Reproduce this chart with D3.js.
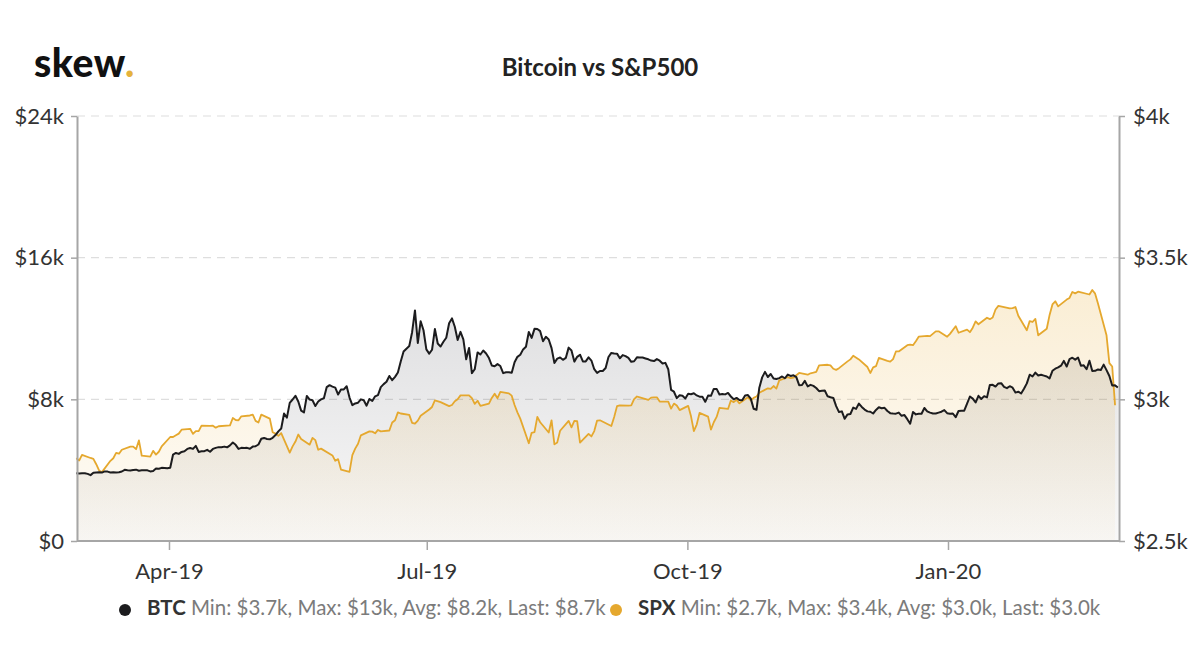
<!DOCTYPE html>
<html>
<head>
<meta charset="utf-8">
<script src="https://cdn.jsdelivr.net/npm/d3@7"></script>
<style>
  body { margin: 0; background: #fff; }
  svg { font-family: Lato, "Open Sans", sans-serif; }
</style>
</head>
<body>
<div id="chart"></div>
<script>
// BTC daily closes, one array per month (first day given in btcMonthStart)
const btcMonthStart = ["2019-02-27", "2019-03-01", "2019-04-01", "2019-05-01", "2019-06-01", "2019-07-01",
  "2019-08-01", "2019-09-01", "2019-10-01", "2019-11-01", "2019-12-01", "2020-01-01", "2020-02-01"];
const btcValues = [
  [3820, 3815],
  [3825, 3830, 3790, 3720, 3860, 3875, 3880, 3865, 3930, 3920, 3870, 3885, 3875, 3880, 3925, 4020, 3995, 3980, 4010, 4030,
   3970, 3990, 4000, 3990, 3930, 3955, 4090, 4080, 4130, 4120, 4110],
  [4140, 4880, 4970, 4920, 5030, 5070, 5200, 5250, 5200, 5370, 5030, 5070, 5070, 5150, 5040, 5200, 5260, 5300, 5290, 5330,
   5290, 5400, 5560, 5430, 5200, 5260, 5250, 5260, 5210, 5330],
  [5350, 5450, 5770, 5820, 5760, 5740, 5830, 5980, 6190, 6350, 7200, 6970, 7800, 7990, 8200, 7880, 7360, 7260, 8190, 7990,
   7950, 7620, 7880, 8000, 8060, 8690, 8800, 8720, 8660, 8270, 8550],
  [8560, 8740, 8100, 7670, 7770, 7810, 8000, 7950, 7640, 8020, 7910, 8170, 8240, 8690, 8860, 8990, 9320, 9080, 9270, 9520,
   10140, 10700, 10860, 11010, 11790, 13020, 11180, 12410, 11900, 10820],
  [10580, 10800, 11970, 11150, 10980, 11250, 11480, 12300, 12570, 12100, 11350, 11810, 11390, 10260, 10900, 9480, 9700, 10650, 10530, 10760,
   10590, 10330, 9910, 9870, 9990, 9880, 9480, 9530, 9530, 9500, 10090],
  [10400, 10520, 10820, 10970, 11800, 11470, 11980, 11970, 11850, 11280, 11530, 11380, 10890, 10050, 10300, 10360, 10230, 10340, 10920, 10760,
   10130, 10400, 10520, 10140, 10140, 10370, 10190, 9700, 9490, 9600, 9600],
  [9770, 10390, 10620, 10590, 10580, 10320, 10500, 10440, 10340, 10120, 10150, 10370, 10360, 10360, 10310, 10260, 10190, 10160, 10270, 10180,
   10020, 10060, 9700, 8530, 8430, 8070, 8230, 8200, 8050, 8310],
  [8290, 8340, 8220, 8150, 8150, 7860, 8210, 8200, 8590, 8590, 8270, 8300, 8280, 8360, 8160, 8000, 8080, 7960, 7950, 8220,
   8240, 8040, 7470, 7410, 8660, 9240, 9550, 9260, 9430, 9180, 9150],
  [9200, 9290, 9190, 9400, 9320, 9360, 9250, 8800, 8810, 9040, 8730, 8820, 8760, 8640, 8460, 8490, 8500, 8170, 8120, 8080,
   7620, 7280, 7320, 6900, 7150, 7170, 7530, 7460, 7760, 7570],
  [7420, 7320, 7300, 7200, 7400, 7550, 7500, 7520, 7340, 7220, 7200, 7190, 7250, 7070, 7110, 6880, 6620, 7280, 7150, 7190,
   7190, 7510, 7320, 7250, 7200, 7200, 7250, 7300, 7390, 7220, 7190],
  [7200, 6990, 7340, 7350, 7360, 7760, 8160, 8040, 7820, 8200, 8020, 8180, 8110, 8810, 8820, 8720, 8900, 8910, 8700, 8630,
   8740, 8660, 8380, 8430, 8330, 8600, 8900, 9390, 9290, 9510, 9350],
  [9390, 9340, 9290, 9180, 9610, 9730, 9800, 9900, 10170, 9850, 10270, 10350, 10240, 10360, 9900, 9920, 9700, 10180, 9600, 9610,
   9690, 9660, 9960, 9650, 9320, 8780, 8790, 8670]
];

// SPX closes on trading days
const spxData = [
  ["2019-02-27", 2792], ["2019-02-28", 2784],
  ["2019-03-01", 2804], ["2019-03-04", 2793], ["2019-03-05", 2790], ["2019-03-06", 2771], ["2019-03-07", 2749], ["2019-03-08", 2743],
  ["2019-03-11", 2783], ["2019-03-12", 2792], ["2019-03-13", 2811], ["2019-03-14", 2808], ["2019-03-15", 2822], ["2019-03-18", 2833],
  ["2019-03-19", 2833], ["2019-03-20", 2824], ["2019-03-21", 2855], ["2019-03-22", 2801], ["2019-03-25", 2798], ["2019-03-26", 2818],
  ["2019-03-27", 2805], ["2019-03-28", 2815], ["2019-03-29", 2834],
  ["2019-04-01", 2867], ["2019-04-02", 2867], ["2019-04-03", 2873], ["2019-04-04", 2879], ["2019-04-05", 2893], ["2019-04-08", 2896],
  ["2019-04-09", 2878], ["2019-04-10", 2888], ["2019-04-11", 2888], ["2019-04-12", 2907], ["2019-04-15", 2906], ["2019-04-16", 2907],
  ["2019-04-17", 2900], ["2019-04-18", 2905], ["2019-04-22", 2908], ["2019-04-23", 2934], ["2019-04-24", 2927], ["2019-04-25", 2926],
  ["2019-04-26", 2940], ["2019-04-29", 2943], ["2019-04-30", 2946],
  ["2019-05-01", 2924], ["2019-05-02", 2918], ["2019-05-03", 2946], ["2019-05-06", 2932], ["2019-05-07", 2884], ["2019-05-08", 2879],
  ["2019-05-09", 2871], ["2019-05-10", 2881], ["2019-05-13", 2812], ["2019-05-14", 2834], ["2019-05-15", 2851], ["2019-05-16", 2876],
  ["2019-05-17", 2860], ["2019-05-20", 2840], ["2019-05-21", 2864], ["2019-05-22", 2856], ["2019-05-23", 2822], ["2019-05-24", 2826],
  ["2019-05-28", 2802], ["2019-05-29", 2783], ["2019-05-30", 2789], ["2019-05-31", 2752],
  ["2019-06-03", 2744], ["2019-06-04", 2803], ["2019-06-05", 2826], ["2019-06-06", 2843], ["2019-06-07", 2873], ["2019-06-10", 2887],
  ["2019-06-11", 2886], ["2019-06-12", 2880], ["2019-06-13", 2892], ["2019-06-14", 2887], ["2019-06-17", 2890], ["2019-06-18", 2918],
  ["2019-06-19", 2926], ["2019-06-20", 2954], ["2019-06-21", 2950], ["2019-06-24", 2945], ["2019-06-25", 2917], ["2019-06-26", 2914],
  ["2019-06-27", 2925], ["2019-06-28", 2942],
  ["2019-07-01", 2964], ["2019-07-02", 2973], ["2019-07-03", 2996], ["2019-07-05", 2990], ["2019-07-08", 2976], ["2019-07-09", 2980],
  ["2019-07-10", 2993], ["2019-07-11", 3000], ["2019-07-12", 3014], ["2019-07-15", 3014], ["2019-07-16", 3004], ["2019-07-17", 2984],
  ["2019-07-18", 2995], ["2019-07-19", 2977], ["2019-07-22", 2985], ["2019-07-23", 3005], ["2019-07-24", 3020], ["2019-07-25", 3004],
  ["2019-07-26", 3026], ["2019-07-29", 3021], ["2019-07-30", 3013], ["2019-07-31", 2980],
  ["2019-08-01", 2954], ["2019-08-02", 2932], ["2019-08-05", 2845], ["2019-08-06", 2882], ["2019-08-07", 2884], ["2019-08-08", 2938],
  ["2019-08-09", 2919], ["2019-08-12", 2883], ["2019-08-13", 2926], ["2019-08-14", 2841], ["2019-08-15", 2848], ["2019-08-16", 2889],
  ["2019-08-19", 2924], ["2019-08-20", 2901], ["2019-08-21", 2924], ["2019-08-22", 2923], ["2019-08-23", 2847], ["2019-08-26", 2878],
  ["2019-08-27", 2869], ["2019-08-28", 2888], ["2019-08-29", 2925], ["2019-08-30", 2926],
  ["2019-09-03", 2906], ["2019-09-04", 2938], ["2019-09-05", 2976], ["2019-09-06", 2979], ["2019-09-09", 2978], ["2019-09-10", 2979],
  ["2019-09-11", 3001], ["2019-09-12", 3010], ["2019-09-13", 3007], ["2019-09-16", 2998], ["2019-09-17", 3006], ["2019-09-18", 3007],
  ["2019-09-19", 3007], ["2019-09-20", 2992], ["2019-09-23", 2992], ["2019-09-24", 2967], ["2019-09-25", 2985], ["2019-09-26", 2978],
  ["2019-09-27", 2962], ["2019-09-30", 2977],
  ["2019-10-01", 2940], ["2019-10-02", 2888], ["2019-10-03", 2911], ["2019-10-04", 2952], ["2019-10-07", 2939], ["2019-10-08", 2893],
  ["2019-10-09", 2919], ["2019-10-10", 2938], ["2019-10-11", 2970], ["2019-10-14", 2966], ["2019-10-15", 2996], ["2019-10-16", 2990],
  ["2019-10-17", 2998], ["2019-10-18", 2986], ["2019-10-21", 3007], ["2019-10-22", 2996], ["2019-10-23", 3005], ["2019-10-24", 3010],
  ["2019-10-25", 3023], ["2019-10-28", 3039], ["2019-10-29", 3037], ["2019-10-30", 3047], ["2019-10-31", 3038],
  ["2019-11-01", 3067], ["2019-11-04", 3078], ["2019-11-05", 3075], ["2019-11-06", 3077], ["2019-11-07", 3085], ["2019-11-08", 3093],
  ["2019-11-11", 3087], ["2019-11-12", 3092], ["2019-11-13", 3094], ["2019-11-14", 3097], ["2019-11-15", 3120], ["2019-11-18", 3122],
  ["2019-11-19", 3120], ["2019-11-20", 3108], ["2019-11-21", 3104], ["2019-11-22", 3110], ["2019-11-25", 3134], ["2019-11-26", 3141],
  ["2019-11-27", 3154], ["2019-11-29", 3141],
  ["2019-12-02", 3114], ["2019-12-03", 3093], ["2019-12-04", 3113], ["2019-12-05", 3117], ["2019-12-06", 3146], ["2019-12-09", 3136],
  ["2019-12-10", 3133], ["2019-12-11", 3142], ["2019-12-12", 3169], ["2019-12-13", 3169], ["2019-12-16", 3191], ["2019-12-17", 3193],
  ["2019-12-18", 3191], ["2019-12-19", 3205], ["2019-12-20", 3221], ["2019-12-23", 3224], ["2019-12-24", 3223], ["2019-12-26", 3240],
  ["2019-12-27", 3240], ["2019-12-30", 3221], ["2019-12-31", 3231],
  ["2020-01-02", 3258], ["2020-01-03", 3235], ["2020-01-06", 3246], ["2020-01-07", 3237], ["2020-01-08", 3253], ["2020-01-09", 3275],
  ["2020-01-10", 3265], ["2020-01-13", 3288], ["2020-01-14", 3283], ["2020-01-15", 3289], ["2020-01-16", 3317], ["2020-01-17", 3330],
  ["2020-01-21", 3321], ["2020-01-22", 3322], ["2020-01-23", 3326], ["2020-01-24", 3295], ["2020-01-27", 3244], ["2020-01-28", 3276],
  ["2020-01-29", 3273], ["2020-01-30", 3284], ["2020-01-31", 3226],
  ["2020-02-03", 3249], ["2020-02-04", 3298], ["2020-02-05", 3335], ["2020-02-06", 3346], ["2020-02-07", 3328], ["2020-02-10", 3352],
  ["2020-02-11", 3358], ["2020-02-12", 3379], ["2020-02-13", 3374], ["2020-02-14", 3380], ["2020-02-18", 3370], ["2020-02-19", 3386],
  ["2020-02-20", 3373], ["2020-02-21", 3338], ["2020-02-24", 3226], ["2020-02-25", 3128], ["2020-02-26", 3116], ["2020-02-27", 2979]
];

const btcTicks = [0, 8000, 16000, 24000];
const spxTicks = [2500, 3000, 3500, 4000];
const legendItems = [
  { name: "BTC", stats: "Min: $3.7k, Max: $13k, Avg: $8.2k, Last: $8.7k", color: "#1c1c1e" },
  { name: "SPX", stats: "Min: $2.7k, Max: $3.4k, Avg: $3.0k, Last: $3.0k", color: "#e5a82e" }
];

const width = 1200, height = 670;
const plotLeft = 77, plotRight = 1119, plotTop = 116, plotBottom = 541;
const parse = d3.utcParse("%Y-%m-%d");

const btc = [];
btcMonthStart.forEach((s, m) => {
  const d0 = parse(s);
  btcValues[m].forEach((v, i) => btc.push({ date: d3.utcDay.offset(d0, i), value: v }));
});
const spx = spxData.map(([d, v]) => ({ date: parse(d), value: v }));

const svg = d3.select('#chart').append('svg')
  .attr('width', width)
  .attr('height', height);

const xDomain = [parse("2019-02-27"), parse("2020-02-28")];
const x = d3.scaleUtc().domain(xDomain).range([76.3, 1117.9]);
// the month ticks of the original sit a touch left of the data spacing
const xTicks = d3.scaleUtc().domain(xDomain).range([75.5, 1112.3]);
const yL = d3.scaleLinear().domain([0, 24000]).range([plotBottom, plotTop]);
const yR = d3.scaleLinear().domain([2500, 4000]).range([plotBottom, plotTop]);

// gradients
const defs = svg.append('defs');
function grad(id, color, a0, a1) {
  const g = defs.append('linearGradient').attr('id', id)
    .attr('x1', 0).attr('y1', 0).attr('x2', 0).attr('y2', 1);
  g.append('stop').attr('offset', 0).attr('stop-color', color).attr('stop-opacity', a0);
  g.append('stop').attr('offset', 1).attr('stop-color', color).attr('stop-opacity', a1);
}
grad('btcFill', '#1e1e28', 0.14, 0.03);
grad('spxFill', '#e6a82a', 0.2, 0.03);

// gridlines
svg.append('g').selectAll('line')
  .data(btcTicks.filter(d => d > 0))
  .enter().append('line')
    .attr('x1', plotLeft).attr('x2', plotRight)
    .attr('y1', d => yL(d)).attr('y2', d => yL(d))
    .attr('stroke', '#dedede')
    .attr('stroke-width', 1.2)
    .attr('stroke-dasharray', '8,6');

// areas
svg.append('path').datum(btc)
  .attr('fill', 'url(#btcFill)')
  .attr('d', d3.area().x(d => x(d.date)).y0(plotBottom).y1(d => yL(d.value)));
svg.append('path').datum(spx)
  .attr('fill', 'url(#spxFill)')
  .attr('d', d3.area().x(d => x(d.date)).y0(plotBottom).y1(d => yR(d.value)));

// lines
svg.append('path').datum(spx)
  .attr('fill', 'none')
  .attr('stroke', legendItems[1].color)
  .attr('stroke-width', 1.8)
  .attr('stroke-linejoin', 'round')
  .attr('d', d3.line().x(d => x(d.date)).y(d => yR(d.value)));
svg.append('path').datum(btc)
  .attr('fill', 'none')
  .attr('stroke', legendItems[0].color)
  .attr('stroke-width', 2)
  .attr('stroke-linejoin', 'round')
  .attr('d', d3.line().x(d => x(d.date)).y(d => yL(d.value)));

// axes
const kFmt = d => d === 0 ? '$0' : `$${d / 1000}k`;
const styleAxis = g => {
  g.select('.domain').attr('stroke', '#a6a6a6').attr('stroke-width', 2);
  g.selectAll('.tick line').attr('stroke', '#a6a6a6').attr('stroke-width', 1.5);
  g.selectAll('.tick text').attr('fill', '#333').style('font-size', '22px').style('font-family', 'Lato');
};

svg.append('g')
  .attr('transform', `translate(${plotLeft},0)`)
  .call(d3.axisLeft(yL).tickValues(btcTicks).tickFormat(kFmt).tickSizeInner(6).tickSizeOuter(0).tickPadding(7))
  .call(styleAxis);

svg.append('g')
  .attr('transform', `translate(${plotRight},0)`)
  .call(d3.axisRight(yR).tickValues(spxTicks).tickFormat(kFmt).tickSizeInner(6).tickSizeOuter(0).tickPadding(8))
  .call(styleAxis);

const xAxis = svg.append('g')
  .attr('transform', `translate(0,${plotBottom})`)
  .call(d3.axisBottom(xTicks).ticks(d3.utcMonth.every(3)).tickFormat(d3.utcFormat('%b-%y')).tickSizeInner(9).tickSizeOuter(0).tickPadding(13))
  .call(styleAxis);
xAxis.select('.domain').attr('d', `M${plotLeft},0H${plotRight}`);

// title + logo
svg.append('text')
  .attr('x', 600).attr('y', 76)
  .attr('text-anchor', 'middle')
  .attr('fill', '#222')
  .style('font-size', '24px')
  .style('font-weight', 700)
  .text('Bitcoin vs S&P500');

const logo = svg.append('text')
  .attr('x', 34).attr('y', 77)
  .attr('fill', '#111')
  .style('font-size', '39px')
  .style('font-weight', 900)
  .style('letter-spacing', '0.5px')
  .text('skew');
logo.append('tspan').attr('fill', '#e5b23c').text('.');

// legend
const legendX = [125, 616];
legendItems.forEach((item, i) => {
  const g = svg.append('g').attr('transform', `translate(${legendX[i]},608)`);
  g.append('circle').attr('r', 6).attr('cy', 2).attr('fill', item.color);
  const t = g.append('text').attr('x', 22).attr('y', 7)
    .style('font-size', '20.5px');
  t.append('tspan').attr('fill', '#333').style('font-weight', 700).text(item.name);
  t.append('tspan').attr('fill', '#7b7b7b').text(' ' + item.stats);
});
</script>
</body>
</html>
